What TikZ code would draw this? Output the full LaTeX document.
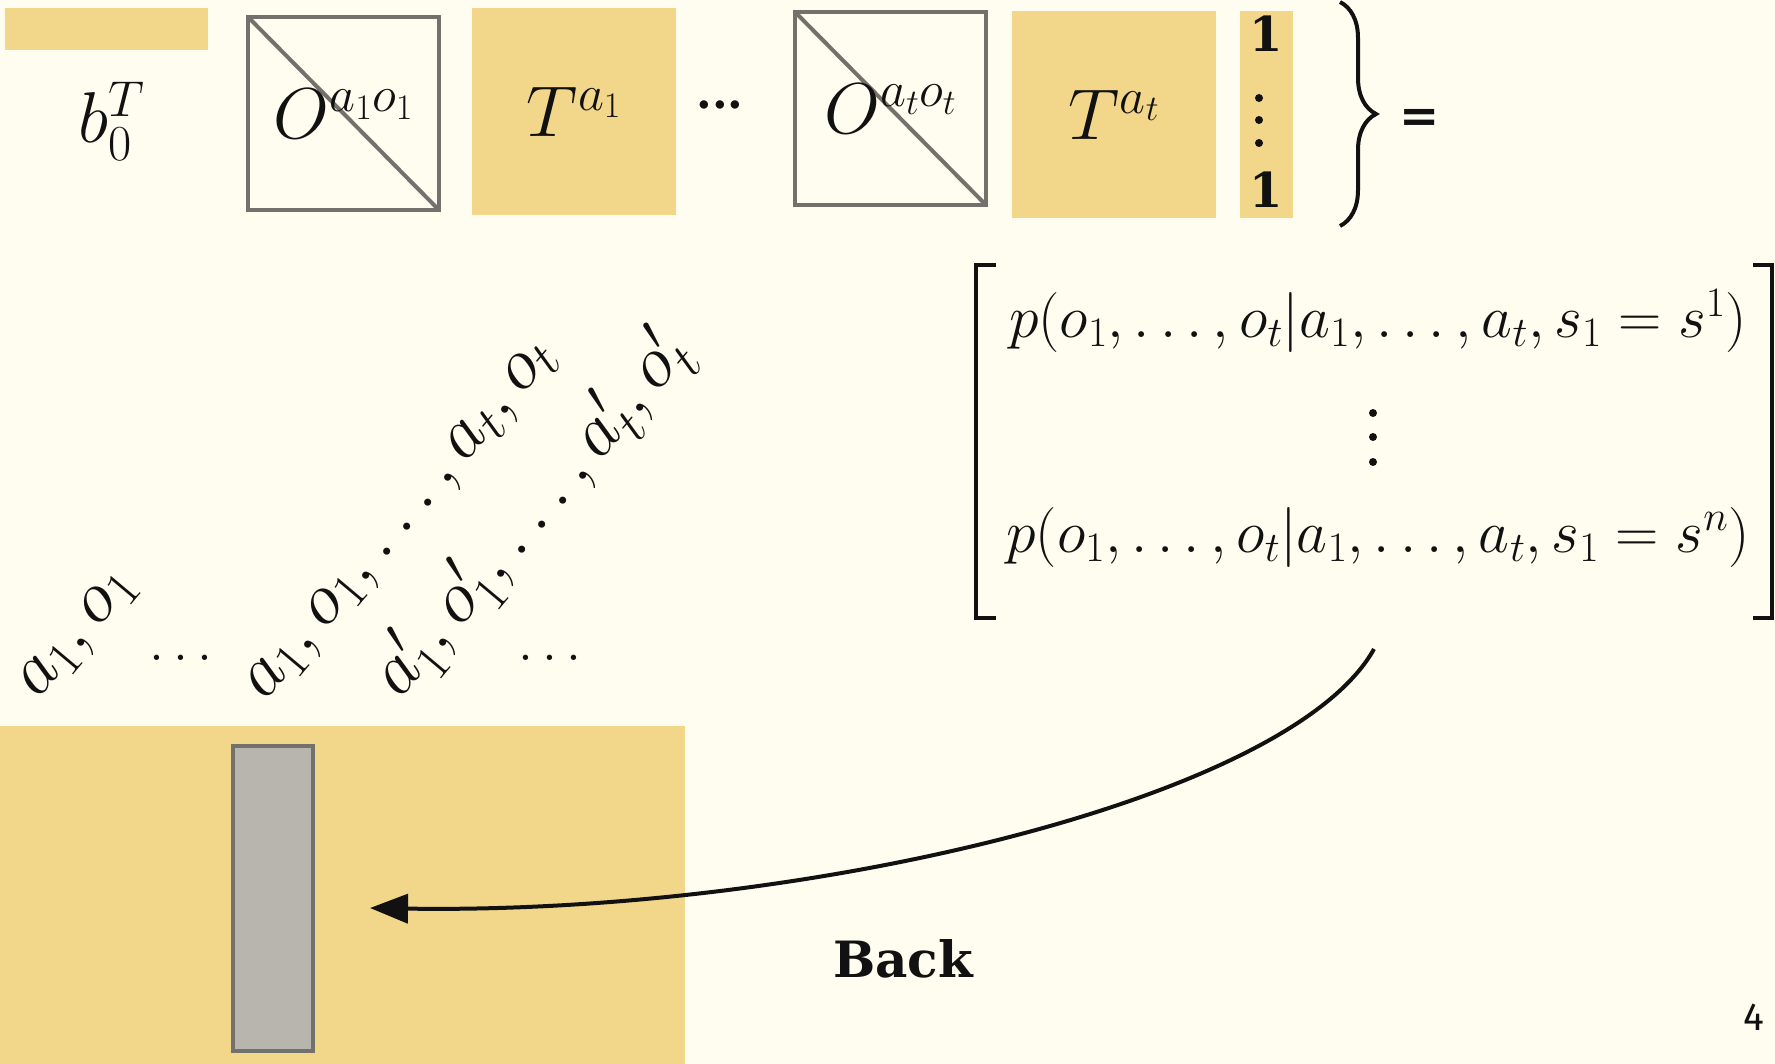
\RequirePackage{fix-cm}
\documentclass[tikz,border=0pt]{standalone}
\usepackage{amsmath}
\usepackage{fontspec}
\usepackage{tikz}
\usetikzlibrary{arrows.meta, decorations.pathreplacing}
\usepackage{xcolor}

\newfontfamily\slideserif{DejaVu Serif}
\newfontfamily\slidesans{Fira Sans}
\definecolor{slidebg}{HTML}{FFFDF0}
\definecolor{slideyellow}{HTML}{F2D78B}
\definecolor{boxgray}{HTML}{72716C}
\definecolor{bargray}{HTML}{B8B5AE}
\definecolor{ink}{HTML}{111111}

\begin{document}
\begin{tikzpicture}[x=1pt, y=-1pt,
    every node/.style={text=ink, inner sep=0pt},
    yblock/.style={fill=slideyellow, anchor=north west},
    obox/.style={draw=boxgray, fill=slidebg, line width=4pt, anchor=north west,
        path picture={\draw[boxgray, line width=4pt] (path picture bounding box.north west) -- (path picture bounding box.south east);}},
    bigmath/.style={font=\fontsize{72}{80}\selectfont},
    rowmath/.style={font=\fontsize{60}{66}\selectfont, anchor=base},
    seqlabel/.style={font=\fontsize{73}{80}\selectfont, rotate=50, anchor=base west},
    lowdots/.style={font=\fontsize{55}{60}\selectfont},
    boldtext/.style={font=\fontsize{48}{54}\selectfont\slideserif\bfseries}]
    % Hintergrund
    \path[use as bounding box, fill=slidebg] (0,0) rectangle (1775,1064);

    % obere Zeile: b_0^T O T ... O T 1
    \node[yblock, minimum width=203pt, minimum height=42pt] (bbar) at (5,8) {};
    \node[bigmath, anchor=base] (b0) at (112,143) {$b_0^T$};
    \node[obox, minimum width=191pt, minimum height=193pt] (O1) at (246,15) {\fontsize{72}{80}\selectfont$O^{a_1o_1}$};
    \node[yblock, minimum width=204pt, minimum height=207pt] (T1) at (472,8) {\fontsize{72}{80}\selectfont$T^{a_1}$};
    \node[boldtext, font=\fontsize{45}{50}\selectfont\slideserif\bfseries] (middots) at (720,105) {...};
    \node[obox, minimum width=191pt, minimum height=193pt] (Ot) at (793,10) {\fontsize{72}{80}\selectfont$O^{a_to_t}$};
    \node[yblock, minimum width=204pt, minimum height=207pt] (Tt) at (1012,11) {\fontsize{72}{80}\selectfont$T^{a_t}$};
    \node[yblock, minimum width=53pt, minimum height=207pt] (ones) at (1240,11) {};
    \node[boldtext, anchor=base] (onetop) at (1266,52) {1};
    \node[boldtext, anchor=base] (onebot) at (1266,208) {1};
    \foreach \y in {98,120,143}
        \fill[ink] (1259,\y) circle (4pt);

    % Klammer und Gleichheitszeichen
    \draw[ink, line width=4pt, decorate, decoration={brace, amplitude=36pt}] (1340,2) -- (1340,226);
    \node[boldtext, anchor=base] (eq) at (1420,133) {=};

    % Vektor der Wahrscheinlichkeiten
    \draw[ink, line width=4pt] (996,265) -| (975.5,618) -- (996,618);
    \draw[ink, line width=4pt] (1753,265) -| (1771.5,618) -- (1753,618);
    \node[rowmath] (row1) at (1378,338) {$p(o_1,\ldots,o_t|a_1,\ldots,a_t,s_1=s^1)$};
    \node[rowmath] (rown) at (1378,552) {$p(o_1,\ldots,o_t|a_1,\ldots,a_t,s_1=s^n)$};
    \foreach \y in {413,437,462}
        \fill[ink] (1373,\y) circle (4pt);

    % Spaltenbeschriftungen (gedreht)
    \node[seqlabel] (seqa) at (38,700) {$a_1,o_1$};
    \node[lowdots] (dotsa) at (181,658) {$\ldots$};
    \node[seqlabel] (seqb) at (265,702) {$a_1,o_1,\ldots,a_t,o_t$};
    \node[seqlabel] (seqc) at (400,700) {$a'_1,o'_1,\ldots,a'_t,o'_t$};
    \node[lowdots] (dotsb) at (550,658) {$\ldots$};

    % Matrix unten mit markierter Spalte
    \node[yblock, minimum width=685pt, minimum height=338pt] (panel) at (0,726) {};
    \node[draw=boxgray, fill=bargray, line width=4pt, anchor=north west,
        minimum width=80pt, minimum height=305pt] (col) at (231,744) {};

    % Pfeil zurueck
    \coordinate (vecbottom) at (1374,649);
    \coordinate (backtip) at (370,908);
    \draw[ink, line width=4pt, -{Triangle[length=38pt, width=29pt]}]
        (vecbottom) .. controls (1290,800) and (800,915) .. (backtip);
    \node[boldtext, font=\fontsize{50}{56}\selectfont\slideserif\bfseries, anchor=base] (back) at (903,977) {Back};

    % Seitenzahl
    \node[font=\fontsize{39}{44}\selectfont\slidesans, anchor=base] (pagenum) at (1754,1030) {4};
\end{tikzpicture}
\end{document}
